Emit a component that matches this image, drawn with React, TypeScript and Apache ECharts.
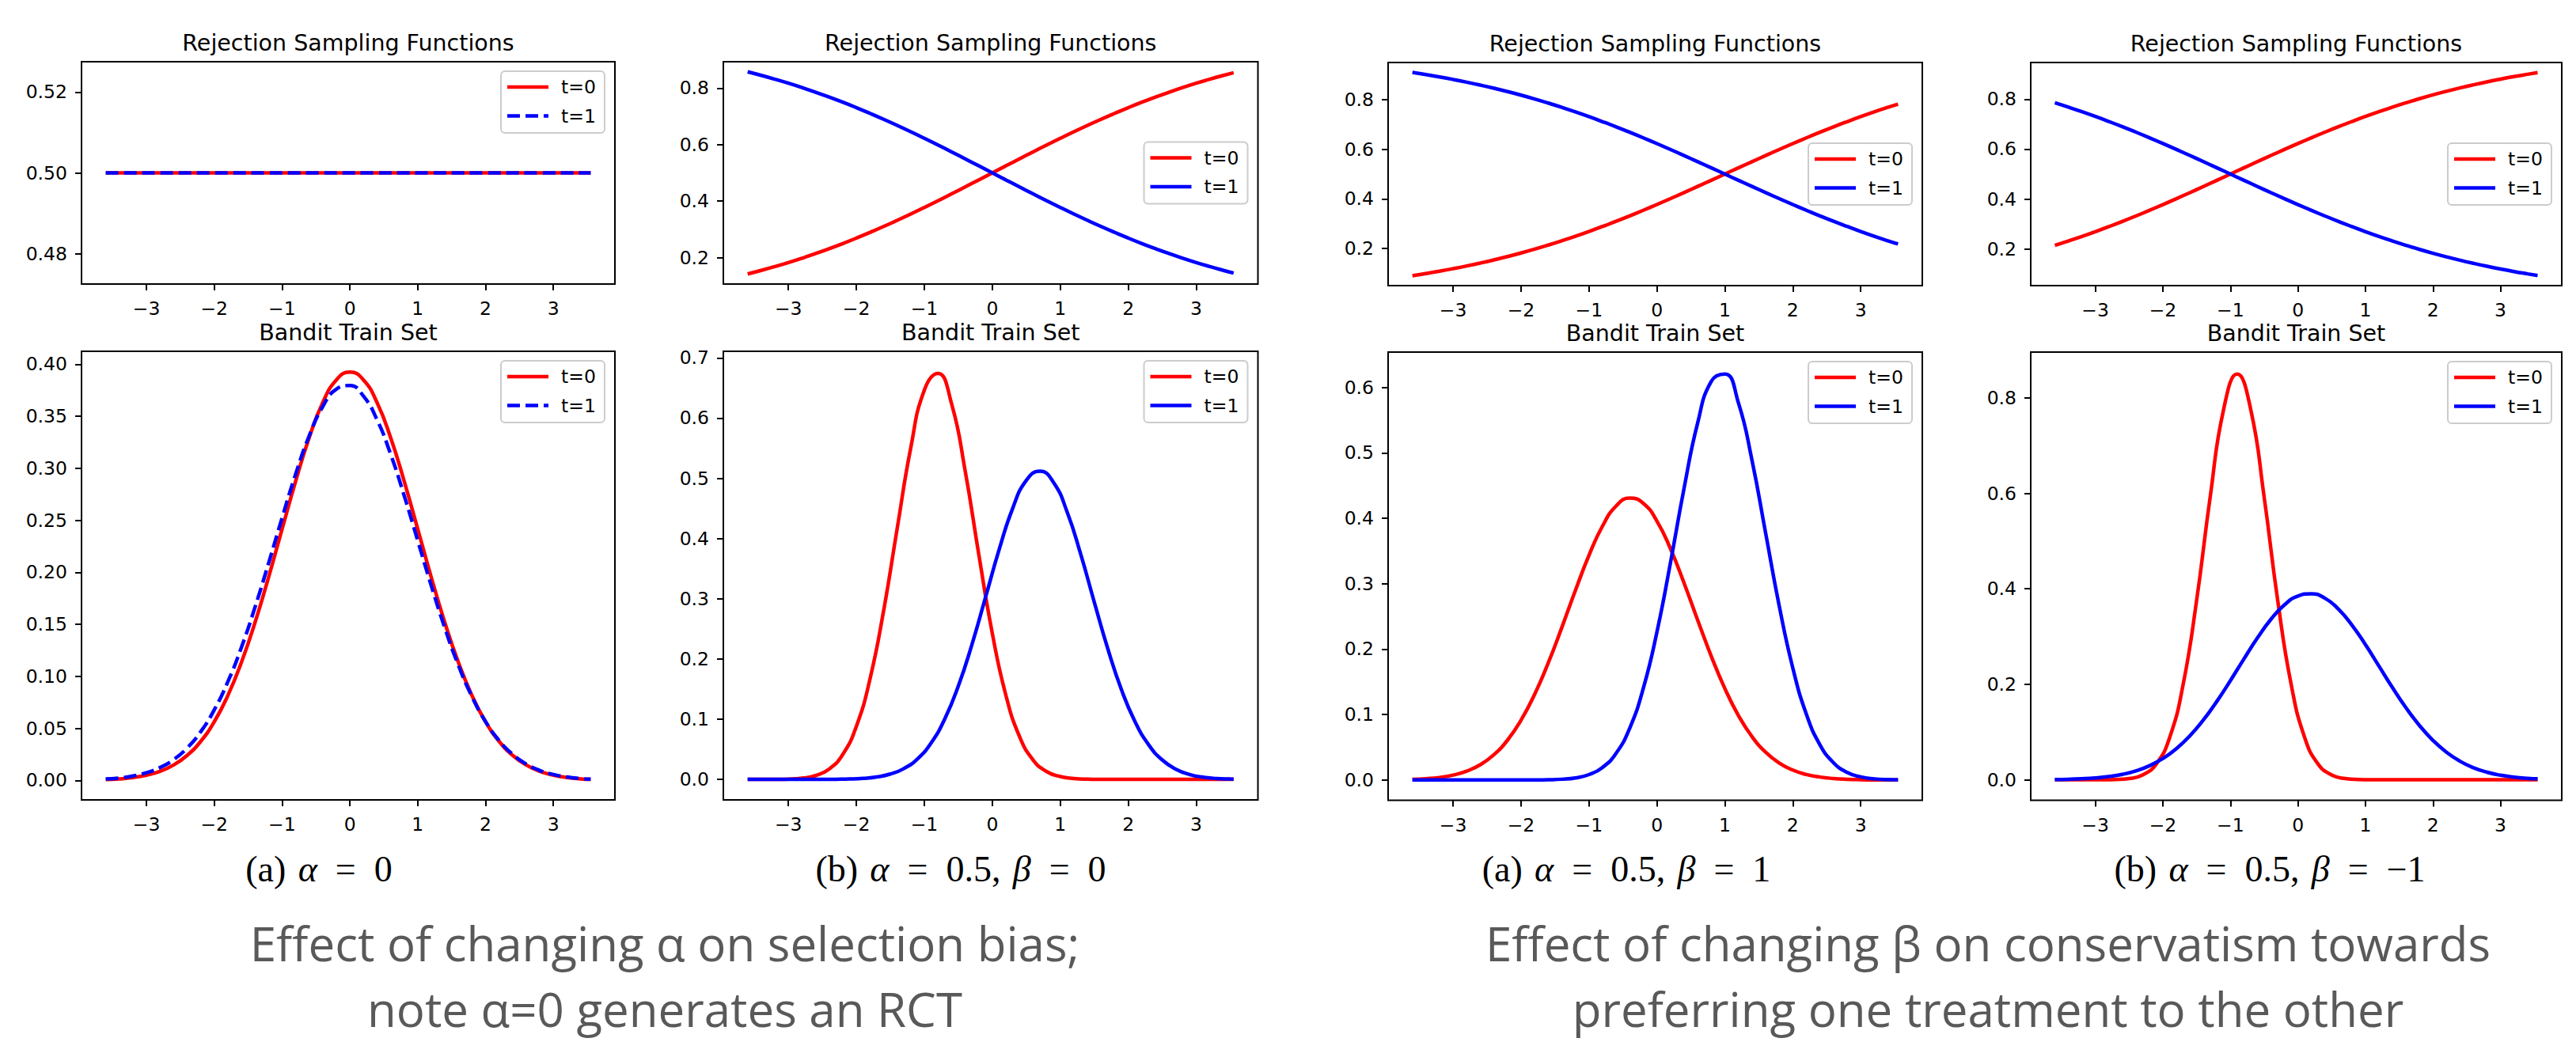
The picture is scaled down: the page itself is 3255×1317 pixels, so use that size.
import React, { useEffect, useRef } from "react";
import * as echarts from "echarts";

// ---------------- data ----------------
// sample positions (even and odd grids)
const X = [-3.6, -3.4, -3.2, -3.0, -2.8, -2.6, -2.4, -2.2, -2.0, -1.8, -1.6, -1.4, -1.2, -1.0, -0.8, -0.6, -0.4, -0.2, 0, 0.2, 0.4, 0.6, 0.8, 1.0, 1.2, 1.4, 1.6, 1.8, 2.0, 2.2, 2.4, 2.6, 2.8, 3.0, 3.2, 3.4, 3.55];
const X_ODD = [-3.6, -3.5, -3.3, -3.1, -2.9, -2.7, -2.5, -2.3, -2.1, -1.9, -1.7, -1.5, -1.3, -1.1, -0.9, -0.7, -0.5, -0.3, -0.1, 0.1, 0.3, 0.5, 0.7, 0.9, 1.1, 1.3, 1.5, 1.7, 1.9, 2.1, 2.3, 2.5, 2.7, 2.9, 3.1, 3.3, 3.5, 3.55];
const X_TICKS = [-3, -2, -1, 0, 1, 2, 3];
const X_MIN = -3.9575;
const X_MAX = 3.9075;

// Rejection sampling functions
const RS_A0_T0 = [0.5, 0.5, 0.5, 0.5, 0.5, 0.5, 0.5, 0.5, 0.5, 0.5, 0.5, 0.5, 0.5, 0.5, 0.5, 0.5, 0.5, 0.5, 0.5, 0.5, 0.5, 0.5, 0.5, 0.5, 0.5, 0.5, 0.5, 0.5, 0.5, 0.5, 0.5, 0.5, 0.5, 0.5, 0.5, 0.5, 0.5];
const RS_A0_T1 = [0.5, 0.5, 0.5, 0.5, 0.5, 0.5, 0.5, 0.5, 0.5, 0.5, 0.5, 0.5, 0.5, 0.5, 0.5, 0.5, 0.5, 0.5, 0.5, 0.5, 0.5, 0.5, 0.5, 0.5, 0.5, 0.5, 0.5, 0.5, 0.5, 0.5, 0.5, 0.5, 0.5, 0.5, 0.5, 0.5, 0.5];
const RS_B0_T0 = [0.1419, 0.1545, 0.1680, 0.1824, 0.1978, 0.2142, 0.2315, 0.2497, 0.2689, 0.2891, 0.3100, 0.3318, 0.3543, 0.3775, 0.4013, 0.4256, 0.4502, 0.4750, 0.5000, 0.5250, 0.5498, 0.5744, 0.5987, 0.6225, 0.6457, 0.6682, 0.6900, 0.7109, 0.7311, 0.7503, 0.7685, 0.7858, 0.8022, 0.8176, 0.8320, 0.8455, 0.8551];
const RS_B0_T1 = [0.8581, 0.8455, 0.8320, 0.8176, 0.8022, 0.7858, 0.7685, 0.7503, 0.7311, 0.7109, 0.6900, 0.6682, 0.6457, 0.6225, 0.5987, 0.5744, 0.5498, 0.5250, 0.5000, 0.4750, 0.4502, 0.4256, 0.4013, 0.3775, 0.3543, 0.3318, 0.3100, 0.2891, 0.2689, 0.2497, 0.2315, 0.2142, 0.1978, 0.1824, 0.1680, 0.1545, 0.1449];
const RS_B1_T0 = [0.0911, 0.0998, 0.1091, 0.1192, 0.1301, 0.1419, 0.1545, 0.1680, 0.1824, 0.1978, 0.2142, 0.2315, 0.2497, 0.2689, 0.2891, 0.3100, 0.3318, 0.3543, 0.3775, 0.4013, 0.4256, 0.4502, 0.4750, 0.5000, 0.5250, 0.5498, 0.5744, 0.5987, 0.6225, 0.6457, 0.6682, 0.6900, 0.7109, 0.7311, 0.7503, 0.7685, 0.7816];
const RS_B1_T1 = [0.9089, 0.9002, 0.8909, 0.8808, 0.8699, 0.8581, 0.8455, 0.8320, 0.8176, 0.8022, 0.7858, 0.7685, 0.7503, 0.7311, 0.7109, 0.6900, 0.6682, 0.6457, 0.6225, 0.5987, 0.5744, 0.5498, 0.5250, 0.5000, 0.4750, 0.4502, 0.4256, 0.4013, 0.3775, 0.3543, 0.3318, 0.3100, 0.2891, 0.2689, 0.2497, 0.2315, 0.2184];
const RS_BM1_T0 = [0.2142, 0.2315, 0.2497, 0.2689, 0.2891, 0.3100, 0.3318, 0.3543, 0.3775, 0.4013, 0.4256, 0.4502, 0.4750, 0.5000, 0.5250, 0.5498, 0.5744, 0.5987, 0.6225, 0.6457, 0.6682, 0.6900, 0.7109, 0.7311, 0.7503, 0.7685, 0.7858, 0.8022, 0.8176, 0.8320, 0.8455, 0.8581, 0.8699, 0.8808, 0.8909, 0.9002, 0.9068];
const RS_BM1_T1 = [0.7858, 0.7685, 0.7503, 0.7311, 0.7109, 0.6900, 0.6682, 0.6457, 0.6225, 0.5987, 0.5744, 0.5498, 0.5250, 0.5000, 0.4750, 0.4502, 0.4256, 0.4013, 0.3775, 0.3543, 0.3318, 0.3100, 0.2891, 0.2689, 0.2497, 0.2315, 0.2142, 0.1978, 0.1824, 0.1680, 0.1545, 0.1419, 0.1301, 0.1192, 0.1091, 0.0998, 0.0932];

// Bandit train set densities
const TR_A0_T0 = [0.0007, 0.0014, 0.0027, 0.0050, 0.0087, 0.0148, 0.0240, 0.0375, 0.0563, 0.0815, 0.1133, 0.1516, 0.1951, 0.2416, 0.2877, 0.3296, 0.3632, 0.3850, 0.3925, 0.3850, 0.3632, 0.3296, 0.2877, 0.2416, 0.1951, 0.1516, 0.1133, 0.0815, 0.0563, 0.0375, 0.0240, 0.0148, 0.0087, 0.0050, 0.0027, 0.0014, 0.0009];
const TR_A0_T1 = [0.0013, 0.0023, 0.0042, 0.0073, 0.0123, 0.0199, 0.0311, 0.0467, 0.0678, 0.0948, 0.1278, 0.1663, 0.2086, 0.2524, 0.2944, 0.3313, 0.3594, 0.3761, 0.3796, 0.3694, 0.3467, 0.3137, 0.2738, 0.2305, 0.1871, 0.1465, 0.1105, 0.0805, 0.0565, 0.0383, 0.0250, 0.0157, 0.0095, 0.0056, 0.0032, 0.0017, 0.0011];
const TR_B0_T0 = [0, 0, 0.0002, 0.0006, 0.0021, 0.0064, 0.0173, 0.0415, 0.0882, 0.1667, 0.2797, 0.4165, 0.5507, 0.6466, 0.6741, 0.6240, 0.5128, 0.3742, 0.2425, 0.1395, 0.0712, 0.0323, 0.0130, 0.0047, 0.0015, 0.0004, 0.0001, 0, 0, 0, 0, 0, 0, 0, 0, 0, 0];
// on X_ODD
const TR_B0_T1 = [0, 0, 0, 0, 0, 0, 0.0001, 0.0003, 0.0007, 0.0018, 0.0041, 0.0090, 0.0181, 0.0343, 0.0607, 0.1004, 0.1551, 0.2240, 0.3025, 0.3817, 0.4504, 0.4967, 0.5120, 0.4933, 0.4443, 0.3741, 0.2944, 0.2166, 0.1489, 0.0957, 0.0575, 0.0323, 0.0170, 0.0083, 0.0038, 0.0016, 0.0007, 0.0005];
const TR_B1_T0 = [0.0009, 0.0020, 0.0039, 0.0075, 0.0136, 0.0234, 0.0387, 0.0609, 0.0915, 0.1310, 0.1789, 0.2331, 0.2897, 0.3434, 0.3883, 0.4188, 0.4309, 0.4228, 0.3958, 0.3533, 0.3009, 0.2444, 0.1893, 0.1399, 0.0986, 0.0663, 0.0425, 0.0260, 0.0152, 0.0084, 0.0045, 0.0023, 0.0011, 0.0005, 0.0002, 0.0001, 0];
const TR_B1_T1 = [0, 0, 0, 0, 0, 0, 0, 0, 0, 0.0001, 0.0004, 0.0012, 0.0032, 0.0083, 0.0193, 0.0409, 0.0793, 0.1402, 0.2260, 0.3323, 0.4458, 0.5456, 0.6092, 0.6204, 0.5765, 0.4886, 0.3779, 0.2666, 0.1716, 0.1007, 0.0539, 0.0264, 0.0117, 0.0048, 0.0018, 0.0006, 0.0003];
// on X_ODD
const TR_BM1_T0 = [0, 0, 0, 0, 0.0001, 0.0006, 0.0026, 0.0101, 0.0327, 0.0884, 0.1997, 0.3763, 0.5918, 0.7764, 0.8500, 0.7764, 0.5918, 0.3763, 0.1997, 0.0884, 0.0327, 0.0101, 0.0026, 0.0006, 0.0001, 0, 0, 0, 0, 0, 0, 0, 0, 0, 0, 0, 0, 0];
const TR_BM1_T1 = [0.0006, 0.0011, 0.0021, 0.0038, 0.0067, 0.0113, 0.0185, 0.0293, 0.0445, 0.0652, 0.0921, 0.1253, 0.1644, 0.2078, 0.2531, 0.2971, 0.3361, 0.3664, 0.3850, 0.3898, 0.3803, 0.3576, 0.3241, 0.2830, 0.2381, 0.1931, 0.1509, 0.1137, 0.0825, 0.0577, 0.0389, 0.0253, 0.0158, 0.0095, 0.0056, 0.0031, 0.0020];

// tick labels
const Y_TICKS_RS_A0 = [0.48, 0.5, 0.52];
const Y_TICKS_RS = [0.2, 0.4, 0.6, 0.8];
const Y_TICKS_TR_A0 = [0, 0.05, 0.1, 0.15, 0.2, 0.25, 0.3, 0.35, 0.4];
const Y_TICKS_TR_B0 = [0, 0.1, 0.2, 0.3, 0.4, 0.5, 0.6, 0.7];
const Y_TICKS_TR_B1 = [0, 0.1, 0.2, 0.3, 0.4, 0.5, 0.6];
const Y_TICKS_TR_BM1 = [0, 0.2, 0.4, 0.6, 0.8];

// texts
const LEGEND_LABELS = ["t=0", "t=1"];
const TOP_TITLE = "Rejection Sampling Functions";
const BOTTOM_TITLE = "Bandit Train Set";
const SP = "\u2004"; // three-per-em space
const EQ = "\u2002=\u2002"; // math spacing around "="
const SUBCAPTIONS = [
  `{n|(a)${SP}}{m|α}{n|${EQ}0}`,
  `{n|(b)${SP}}{m|α}{n|${EQ}0.5,${SP}}{m|β}{n|${EQ}0}`,
  `{n|(a)${SP}}{m|α}{n|${EQ}0.5,${SP}}{m|β}{n|${EQ}1}`,
  `{n|(b)${SP}}{m|α}{n|${EQ}0.5,${SP}}{m|β}{n|${EQ}−1}`,
];
const CAPTION_LEFT = ["Effect of changing α on selection bias;", "note α=0 generates an RCT"];
const CAPTION_RIGHT = ["Effect of changing β on conservatism towards", "preferring one treatment to the other"];

// ---------------- layout ----------------
type Panel = {
  grid: { left: number; top: number; width: number; height: number };
  yMin: number; yMax: number; yTicks: number[]; dec: number;
  legend: "upper" | "center"; dashed: boolean;
  x0: number[]; t0: number[]; x1: number[]; t1: number[]; title: string;
};

const PANELS: Panel[] = [
  { grid: { left: 103, top: 78, width: 674, height: 281 }, yMin: 0.4725, yMax: 0.5275, yTicks: Y_TICKS_RS_A0, dec: 2, legend: "upper", dashed: true, x0: X, t0: RS_A0_T0, x1: X, t1: RS_A0_T1, title: TOP_TITLE },
  { grid: { left: 103, top: 444, width: 674, height: 567 }, yMin: -0.0188, yMax: 0.4125, yTicks: Y_TICKS_TR_A0, dec: 2, legend: "upper", dashed: true, x0: X, t0: TR_A0_T0, x1: X, t1: TR_A0_T1, title: BOTTOM_TITLE },
  { grid: { left: 914, top: 78, width: 675.5, height: 281 }, yMin: 0.1061, yMax: 0.8939, yTicks: Y_TICKS_RS, dec: 1, legend: "center", dashed: false, x0: X, t0: RS_B0_T0, x1: X, t1: RS_B0_T1, title: TOP_TITLE },
  { grid: { left: 914, top: 444, width: 675.5, height: 567 }, yMin: -0.034, yMax: 0.711, yTicks: Y_TICKS_TR_B0, dec: 1, legend: "upper", dashed: false, x0: X, t0: TR_B0_T0, x1: X_ODD, t1: TR_B0_T1, title: BOTTOM_TITLE },
  { grid: { left: 1754, top: 79, width: 675, height: 282 }, yMin: 0.051, yMax: 0.949, yTicks: Y_TICKS_RS, dec: 1, legend: "center", dashed: false, x0: X, t0: RS_B1_T0, x1: X, t1: RS_B1_T1, title: TOP_TITLE },
  { grid: { left: 1754, top: 445, width: 675, height: 566.5 }, yMin: -0.031, yMax: 0.654, yTicks: Y_TICKS_TR_B1, dec: 1, legend: "upper", dashed: false, x0: X, t0: TR_B1_T0, x1: X, t1: TR_B1_T1, title: BOTTOM_TITLE },
  { grid: { left: 2566, top: 79, width: 671, height: 282 }, yMin: 0.0525, yMax: 0.9475, yTicks: Y_TICKS_RS, dec: 1, legend: "center", dashed: false, x0: X, t0: RS_BM1_T0, x1: X, t1: RS_BM1_T1, title: TOP_TITLE },
  { grid: { left: 2566, top: 445, width: 671, height: 566.5 }, yMin: -0.043, yMax: 0.896, yTicks: Y_TICKS_TR_BM1, dec: 1, legend: "upper", dashed: false, x0: X_ODD, t0: TR_BM1_T0, x1: X, t1: TR_BM1_T1, title: BOTTOM_TITLE },
];

const SUBCAPTION_X = [403, 1214, 2055, 2868];
const SUBCAPTION_Y = 1098;

const RED = "#ff0000";
const BLUE = "#0000ff";
const LW = 4.5;
const TICK_FONT = "DejaVu Sans";

function fmtX(v: number) {
  return v < 0 ? "\u2212" + Math.abs(v) : String(v);
}

function buildOption() {
  const grid = PANELS.map((p) => ({
    left: p.grid.left, top: p.grid.top, width: p.grid.width, height: p.grid.height,
    show: true, borderColor: "#000", borderWidth: 2, backgroundColor: "transparent",
  }));
  const xAxis = PANELS.map((p, i) => ({
    type: "value", gridIndex: i, min: X_MIN, max: X_MAX, position: "bottom",
    axisLine: { show: false, onZero: false },
    splitLine: { show: false },
    axisTick: { show: true, customValues: X_TICKS, length: 8, lineStyle: { color: "#000", width: 2 } },
    axisLabel: { show: true, customValues: X_TICKS, formatter: fmtX, margin: 19, color: "#000", fontSize: 23.5, fontFamily: TICK_FONT },
  }));
  const yAxis = PANELS.map((p, i) => ({
    type: "value", gridIndex: i, min: p.yMin, max: p.yMax, position: "left",
    axisLine: { show: false, onZero: false },
    splitLine: { show: false },
    axisTick: { show: true, customValues: p.yTicks, length: 8, lineStyle: { color: "#000", width: 2 } },
    axisLabel: { show: true, customValues: p.yTicks, formatter: (v: number) => v.toFixed(p.dec), margin: 18, color: "#000", fontSize: 23.5, fontFamily: TICK_FONT },
  }));
  const series: any[] = [];
  PANELS.forEach((p, i) => {
    series.push({
      type: "line", name: LEGEND_LABELS[0], xAxisIndex: i, yAxisIndex: i,
      data: p.x0.map((x, j) => [x, p.t0[j]]), showSymbol: false, symbol: "none", smooth: true,
      lineStyle: { color: RED, width: LW }, z: 2,
    });
    series.push({
      type: "line", name: LEGEND_LABELS[1], xAxisIndex: i, yAxisIndex: i,
      data: p.x1.map((x, j) => [x, p.t1[j]]), showSymbol: false, symbol: "none", smooth: true,
      lineStyle: { color: BLUE, width: LW, type: p.dashed ? [16, 7] : "solid" }, z: 3,
    });
  });

  const elements: any[] = [];
  PANELS.forEach((p) => {
    const g = p.grid;
    const cx = g.left + g.width / 2;
    elements.push({
      type: "text", x: cx, y: g.top - 24, z: 50,
      style: { text: p.title, fontSize: 28.5, fontFamily: TICK_FONT, fill: "#000", textAlign: "center", textVerticalAlign: "middle" },
    });
    const bw = 131, bh = 78;
    const bx = g.left + g.width - 13 - bw;
    const by = p.legend === "upper" ? g.top + 12 : g.top + g.height / 2 - bh / 2;
    elements.push({
      type: "rect", z: 60, shape: { x: bx, y: by, width: bw, height: bh, r: 5 },
      style: { fill: "rgba(255,255,255,0.8)", stroke: "#cccccc", lineWidth: 2 },
    });
    const rows = [by + 20, by + 56.5];
    rows.forEach((ry, k) => {
      elements.push({
        type: "line", z: 61, shape: { x1: bx + 8, y1: ry, x2: bx + 60, y2: ry },
        style: { stroke: k === 0 ? RED : BLUE, lineWidth: LW, lineDash: k === 1 && p.dashed ? [16, 7] : null },
      });
      elements.push({
        type: "text", z: 61, x: bx + 76, y: ry,
        style: { text: LEGEND_LABELS[k], fontSize: 23.5, fontFamily: TICK_FONT, fill: "#000", textAlign: "left", textVerticalAlign: "middle" },
      });
    });
  });
  SUBCAPTIONS.forEach((t, i) => {
    elements.push({
      type: "text", z: 50, x: SUBCAPTION_X[i], y: SUBCAPTION_Y,
      style: {
        text: t, textAlign: "center", textVerticalAlign: "middle",
        rich: {
          n: { fontFamily: "Liberation Serif", fontSize: 46, fill: "#000" },
          m: { fontFamily: "Liberation Serif", fontStyle: "italic", fontSize: 46, fill: "#000" },
        },
      },
    });
  });
  const capStyle = { fontSize: 60, fontFamily: "Open Sans", fill: "#595959", textAlign: "center", textVerticalAlign: "middle" };
  const capY = [1192, 1275];
  CAPTION_LEFT.forEach((t, i) => {
    elements.push({ type: "text", z: 50, x: 840, y: capY[i], style: { ...capStyle, text: t } });
  });
  CAPTION_RIGHT.forEach((t, i) => {
    elements.push({ type: "text", z: 50, x: 2512, y: capY[i], style: { ...capStyle, text: t } });
  });

  return {
    animation: false,
    backgroundColor: "#ffffff",
    grid, xAxis, yAxis, series,
    graphic: { elements },
  };
}

export default function App() {
  const ref = useRef<HTMLDivElement>(null);
  useEffect(() => {
    const chart = echarts.init(ref.current as HTMLDivElement, null, { renderer: "svg" });
    chart.setOption(buildOption() as any);
    return () => chart.dispose();
  }, []);
  return (
    <div
      ref={ref}
      style={{ position: "absolute", left: 0, top: 0, width: 3255, height: 1317, background: "#fff" }}
    />
  );
}
